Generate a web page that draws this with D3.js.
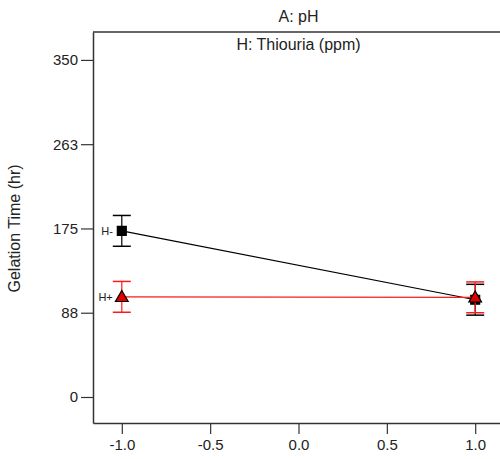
<!DOCTYPE html>
<html>
<head>
<meta charset="utf-8">
<script src="https://cdn.jsdelivr.net/npm/d3@7"></script>
<style>
  body { margin: 0; background: #fff; }
  svg { display: block; font-family: "Liberation Sans", Arial, sans-serif; }
</style>
</head>
<body>
<svg id="chart"></svg>
<script>
// factor A levels (coded) and responses for each level of H
const levels = [-1, 1];
const hMinus = [172.5, 101];
const hMinusErr = [16, 16];
const hPlus = [104, 103.5];
const hPlusErr = [16, 16];
const xTicks = [-1, -0.5, 0, 0.5, 1];
const yTicks = [0, 87.5, 175, 262.5, 350];

const width = 500;
const height = 459;
const margin = { top: 32, right: -4, bottom: 36, left: 93 };

const svg = d3.select('#chart')
  .attr('width', width)
  .attr('height', height);

const x = d3.scaleLinear()
  .domain([-1.163, 1.163])
  .range([margin.left, width - margin.right]);

const y = d3.scaleLinear()
  .domain([-27, 379])
  .range([height - margin.bottom, margin.top]);

// axes
const xAxis = svg.append('g')
  .attr('transform', `translate(0,${height - margin.bottom})`)
  .call(d3.axisBottom(x).tickValues(xTicks).tickFormat(d => d.toFixed(1)).tickSize(11).tickPadding(5).tickSizeOuter(0));

const yAxis = svg.append('g')
  .attr('transform', `translate(${margin.left},0)`)
  .call(d3.axisLeft(y).tickValues(yTicks).tickFormat(d => Math.round(d)).tickSize(12).tickPadding(3).tickSizeOuter(0));

[xAxis, yAxis].forEach(g => {
  g.select('.domain').attr('stroke', '#333').attr('stroke-width', 1.5);
  g.selectAll('.tick line').attr('stroke', '#333').attr('stroke-width', 1.2);
  g.selectAll('.tick text').attr('font-size', 15).attr('fill', '#222');
});

// top frame line
svg.append('line')
  .attr('x1', margin.left).attr('x2', width)
  .attr('y1', margin.top).attr('y2', margin.top)
  .attr('stroke', '#333').attr('stroke-width', 1.5);

// titles
svg.append('text')
  .attr('x', x(0)).attr('y', 22)
  .attr('text-anchor', 'middle').attr('font-size', 16).attr('fill', '#222')
  .text('A: pH');

svg.append('text')
  .attr('x', x(0)).attr('y', 50)
  .attr('text-anchor', 'middle').attr('font-size', 16).attr('fill', '#222')
  .text('H: Thiouria (ppm)');

svg.append('text')
  .attr('transform', `translate(20,${y(175)}) rotate(-90)`)
  .attr('text-anchor', 'middle').attr('font-size', 16).attr('fill', '#222')
  .text('Gelation Time (hr)');

const series = [
  { name: 'H-', vals: hMinus, errs: hMinusErr, color: '#000', marker: d3.symbolSquare, size: 80, fill: '#000' },
  { name: 'H+', vals: hPlus, errs: hPlusErr, color: '#ff1a1a', marker: d3.symbolTriangle, size: 70, fill: '#e00000' }
];

series.forEach(s => {
  const g = svg.append('g');
  const pts = levels.map((lv, i) => ({ x: lv, v: s.vals[i], e: s.errs[i] }));

  g.append('path')
    .datum(pts)
    .attr('fill', 'none')
    .attr('stroke', s.color)
    .attr('stroke-width', 1.2)
    .attr('d', d3.line().x(d => x(d.x)).y(d => y(d.v)));

  pts.forEach(p => {
    const cx = x(p.x);
    g.append('line')
      .attr('x1', cx).attr('x2', cx)
      .attr('y1', y(p.v - p.e)).attr('y2', y(p.v + p.e))
      .attr('stroke', s.color).attr('stroke-width', 1.2);
    [p.v - p.e, p.v + p.e].forEach(v => {
      g.append('line')
        .attr('x1', cx - 9).attr('x2', cx + 9)
        .attr('y1', y(v)).attr('y2', y(v))
        .attr('stroke', s.color).attr('stroke-width', 1.5);
    });
    g.append('path')
      .attr('d', d3.symbol().type(s.marker).size(s.size)())
      .attr('transform', `translate(${cx},${y(p.v) + (s.marker === d3.symbolTriangle ? 1 : 0)})`)
      .attr('fill', s.fill)
      .attr('stroke', '#000')
      .attr('stroke-width', 1.2);
  });

  g.append('text')
    .attr('x', x(levels[0]) - 9)
    .attr('y', y(s.vals[0]))
    .attr('dy', '0.35em')
    .attr('text-anchor', 'end')
    .attr('font-size', 11)
    .attr('fill', '#222')
    .text(s.name);
});
</script>
</body>
</html>
